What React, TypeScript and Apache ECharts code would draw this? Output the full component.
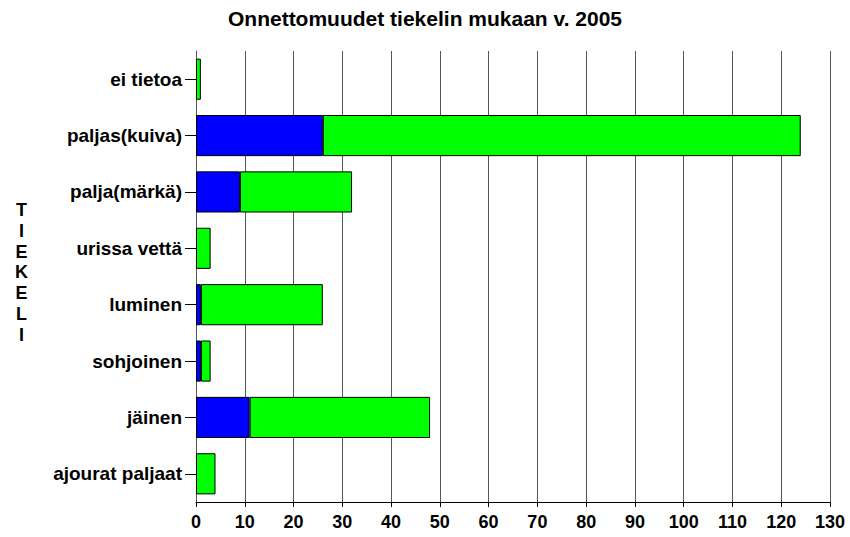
import React, { useEffect, useRef } from "react";
import * as echarts from "echarts";

const titleText = "Onnettomuudet tiekelin mukaan v. 2005";
const axisName = "TIEKELI";
const categories = [
  "ei tietoa",
  "paljas(kuiva)",
  "palja(märkä)",
  "urissa vettä",
  "luminen",
  "sohjoinen",
  "jäinen",
  "ajourat paljaat",
];
const blueValues = [0, 26, 9, 0, 1, 1, 11, 0];
const greenValues = [1, 98, 23, 3, 25, 2, 37, 4];

const FONT = "'Liberation Sans', Arial, sans-serif";

const hideZero = (arr: number[]) => arr.map((v) => (v === 0 ? "-" : v));

export default function App() {
  const ref = useRef<HTMLDivElement>(null);
  useEffect(() => {
    if (!ref.current) return;
    const chart = echarts.init(ref.current, undefined, { renderer: "svg" });
    chart.setOption({
      animation: false,
      backgroundColor: "#ffffff",
      title: {
        text: titleText,
        left: "center",
        top: 3,
        textStyle: { fontFamily: FONT, fontWeight: "bold", fontSize: 21, color: "#000" },
      },
      graphic: [
        {
          type: "text",
          left: 15,
          top: 200,
          style: {
            text: axisName.split("").join("\n"),
            fontFamily: FONT,
            fontWeight: "bold",
            fontSize: 18,
            lineHeight: 20.7,
            fill: "#000",
            textAlign: "center",
          },
        },
      ],
      grid: { left: 196, right: 20, top: 51, bottom: 35, containLabel: false },
      xAxis: {
        type: "value",
        min: 0,
        max: 130,
        interval: 10,
        axisLine: { show: true, lineStyle: { color: "#000", width: 1 } },
        axisTick: { show: true, length: 5, lineStyle: { color: "#000" } },
        splitLine: { show: true, lineStyle: { color: "#555", width: 1 } },
        axisLabel: { fontFamily: FONT, fontWeight: "bold", fontSize: 18, color: "#000", margin: 11 },
      },
      yAxis: {
        type: "category",
        data: categories,
        inverse: true,
        axisLine: { show: true, lineStyle: { color: "#555", width: 1 } },
        axisTick: { show: true, length: 11, alignWithLabel: true, lineStyle: { color: "#000" } },
        axisLabel: { fontFamily: FONT, fontWeight: "bold", fontSize: 19, color: "#000", margin: 14 },
      },
      series: [
        {
          type: "bar",
          stack: "total",
          data: hideZero(blueValues),
          barCategoryGap: "27%",
          itemStyle: { color: "#0000ff", borderColor: "#000", borderWidth: 1 },
        },
        {
          type: "bar",
          stack: "total",
          data: hideZero(greenValues),
          barCategoryGap: "27%",
          itemStyle: { color: "#00ff00", borderColor: "#000", borderWidth: 1 },
        },
      ],
    });
    return () => chart.dispose();
  }, []);
  return <div ref={ref} style={{ width: 850, height: 537, position: "absolute", left: 0, top: 0 }} />;
}
